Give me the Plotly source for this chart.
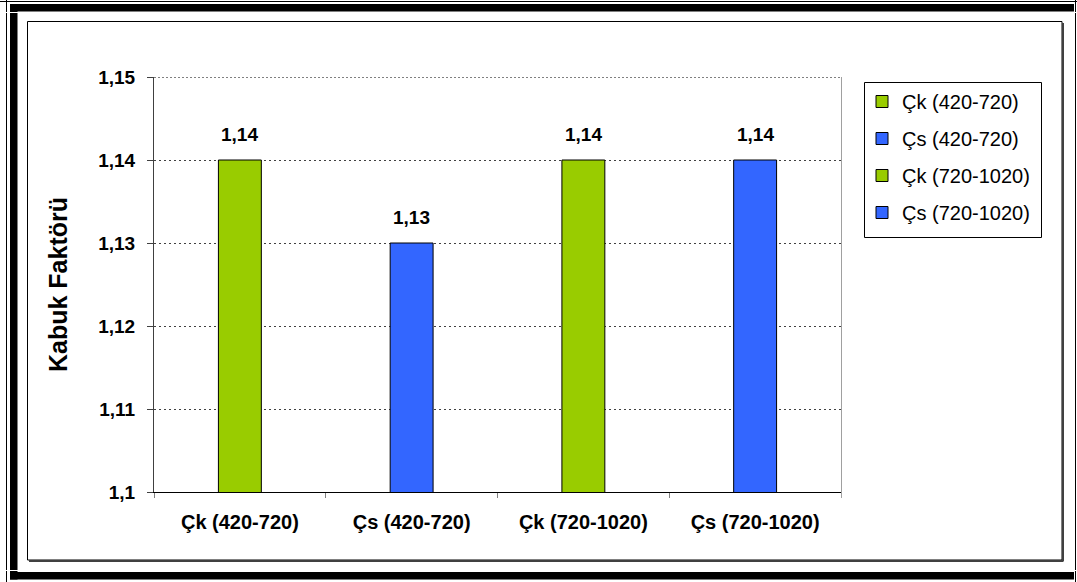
import plotly.graph_objects as go

# Chart data
categories = ["Çk (420-720)", "Çs (420-720)", "Çk (720-1020)", "Çs (720-1020)"]
values = [1.14, 1.13, 1.14, 1.14]
bar_colors = ["#99CC00", "#3366FF", "#99CC00", "#3366FF"]
y_ticks = [1.10, 1.11, 1.12, 1.13, 1.14, 1.15]
y_tick_labels = ["1,1", "1,11", "1,12", "1,13", "1,14", "1,15"]
y_title = "Kabuk Faktörü"

FONT = "Arial, Liberation Sans, sans-serif"
W, H = 1077, 582
L, R, T, B = 154, 841, 77, 492  # plot area in pixels


def px(x):
    return (x - L) / (R - L)


def py(y):
    return (B - y) / (B - T)


fig = go.Figure()
for i, (cat, val, col) in enumerate(zip(categories, values, bar_colors)):
    fig.add_trace(go.Bar(
        x=[cat], y=[val], name=cat,
        marker=dict(color=col, line=dict(color="black", width=1)),
        width=0.25, legendgroup=f"g{i}",
    ))
    fig.add_annotation(
        x=cat, y=val, xref="x", yref="y",
        text=f"{val:.2f}".replace(".", ","),
        showarrow=False, yanchor="bottom", yshift=13,
        font=dict(family=FONT, size=19, color="black", weight="bold"),
    )

shapes = []


def rect(x0, y0, x1, y1, fill=None, line_color=None, lw=0, dash=None):
    d = dict(type="rect", xref="paper", yref="paper",
             x0=px(x0), y0=py(y0), x1=px(x1), y1=py(y1), layer="above")
    if fill:
        d["fillcolor"] = fill
    d["line"] = dict(color=line_color or "rgba(0,0,0,0)", width=lw)
    if dash:
        d["line"]["dash"] = dash
    shapes.append(d)


def line(x0, y0, x1, y1, color, lw=1, dash=None):
    d = dict(type="line", xref="paper", yref="paper",
             x0=px(x0), y0=py(y0), x1=px(x1), y1=py(y1),
             line=dict(color=color, width=lw), layer="above")
    if dash:
        d["line"]["dash"] = dash
    shapes.append(d)


# outer frame
rect(10, 4, 1074, 11.5, fill="black")
rect(10, 4, 17.5, 579.5, fill="black")
rect(10, 572, 1074, 579.5, fill="black")
line(6.5, 0, 6.5, 582, "black", 1)
line(1075.5, 0, 1075.5, 582, "black", 1)
line(0, 1.5, 1077, 1.5, "black", 1)
line(0, 12.5, 1077, 12.5, "white", 1)
line(0, 570.5, 1077, 570.5, "white", 1)

# chart area frame with shadow
rect(27.5, 21.5, 1062, 560, line_color="black", lw=1)
line(1063, 23, 1063, 561.5, "#404040", 2)
line(29, 561, 1063, 561, "#404040", 2)

# plot area top and right edges
line(L, T + 0.5, R, T + 0.5, "#808080", 1, dash="2px,2px")
line(R + 0.5, T, R + 0.5, B + 6, "#a0a0a0", 1)

# legend box
rect(864.5, 82.5, 1041.5, 237.5, line_color="black", lw=1)

fig.update_layout(
    width=W, height=H,
    margin=dict(l=L, r=W - R, t=T, b=H - B, pad=0),
    paper_bgcolor="white", plot_bgcolor="white",
    barmode="overlay",
    showlegend=True,
    legend=dict(
        x=px(862), y=py(82), xanchor="left", yanchor="top",
        font=dict(family=FONT, size=20, color="black"),
        bgcolor="rgba(0,0,0,0)", borderwidth=0,
        traceorder="grouped", tracegroupgap=8,
    ),
    shapes=shapes,
    font=dict(family=FONT, color="black"),
)

fig.update_xaxes(
    type="category", categoryorder="array", categoryarray=categories,
    showline=True, linecolor="black", linewidth=1,
    ticks="outside", tickson="boundaries", ticklen=5, tickcolor="#808080",
    tickfont=dict(family=FONT, size=20, color="black", weight="bold"),
    ticklabelstandoff=12,
    showgrid=False, automargin=False,
)

fig.update_yaxes(
    range=[1.10, 1.15], tickvals=y_ticks, ticktext=y_tick_labels,
    showline=True, linecolor="#404040", linewidth=1,
    ticks="outside", ticklen=6, tickcolor="#404040",
    tickfont=dict(family=FONT, size=19, color="black", weight="bold"),
    ticklabelstandoff=8,
    showgrid=True, gridcolor="#404040", gridwidth=1, griddash="2px,3px",
    zeroline=False, automargin=False,
    title=dict(text=y_title, standoff=23,
               font=dict(family=FONT, size=25, color="black", weight="bold")),
)

fig.write_html("out.html")
